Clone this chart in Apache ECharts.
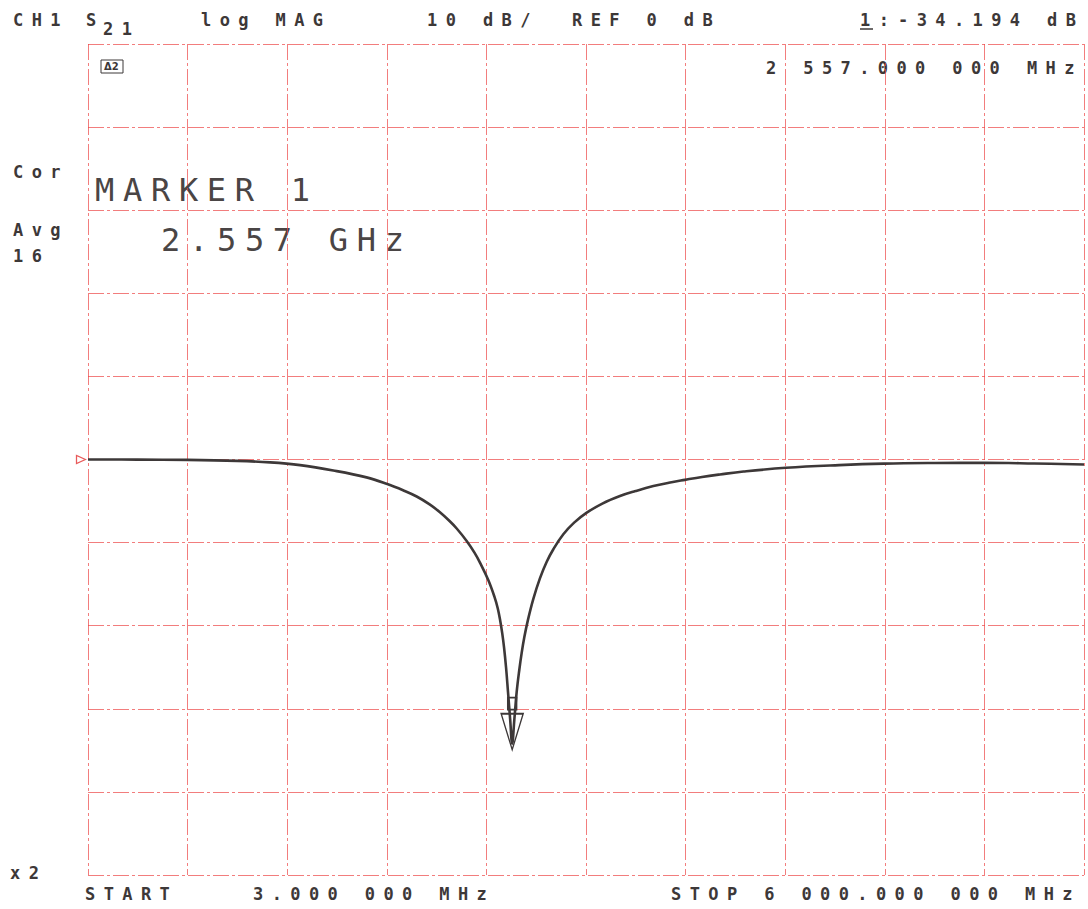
<!DOCTYPE html>
<html><head><meta charset="utf-8">
<script src="https://cdn.jsdelivr.net/npm/echarts@6/dist/echarts.min.js"></script>
<style>html,body{margin:0;padding:0;background:#fff}#chart{width:1088px;height:909px}</style>
</head><body><div id="chart"></div>
<script>
// ---- data ----
const freqMHz = [3, 300, 600, 900, 1100, 1280, 1480, 1680, 1805, 1900, 1982, 2060, 2122, 2180, 2223, 2283, 2330, 2363, 2413, 2450, 2470, 2485, 2497, 2508, 2520, 2532, 2545, 2557, 2570, 2584, 2600, 2614, 2630, 2652, 2684, 2724, 2765, 2805, 2865, 2930, 3006, 3100, 3206, 3300, 3407, 3500, 3597, 3700, 3808, 3950, 4206, 4525, 4796, 5100, 5404, 5700, 6000];
const s21dB   = [0.0, -0.01, -0.05, -0.17, -0.35, -0.68, -1.32, -2.15, -2.95, -3.7, -4.45, -5.4, -6.35, -7.4, -8.3, -9.8, -11.2, -12.4, -14.5, -16.5, -17.9, -19.4, -20.9, -22.6, -25.0, -28.0, -31.3, -34.194, -31.3, -28.0, -25.3, -23.3, -21.4, -19.3, -16.8, -14.3, -12.3, -10.8, -9.0, -7.6, -6.4, -5.3, -4.4, -3.8, -3.2, -2.8, -2.45, -2.1, -1.8, -1.45, -1.0, -0.68, -0.5, -0.42, -0.4, -0.48, -0.6];
const startMHz = 3;
const stopMHz = 6000;
const refLevelDB = 0;
const dbPerDiv = 10;
const markerFreqMHz = 2557;
const markerDB = -34.194;
const headerTexts = ['CH1', 'S', '21', 'log MAG', '10 dB/', 'REF 0 dB', '1:', '-34.194 dB'];
const markerFreqText = '2 557.000 000 MHz';
const sideTexts = ['Cor', 'Avg', '16', 'x2'];
const markerTexts = ['MARKER 1', '2.557 GHz'];
const footerTexts = ['START', '3.000 000 MHz', 'STOP 6 000.000 000 MHz'];
const iconText = 'Δ2';

const traceData = freqMHz.map((f, i) => [f, s21dB[i]]);

const ink = '#3d3838';
const gridRed = 'rgba(236,70,70,0.7)';
const smallFont = 'bold 17px "DejaVu Sans Mono"';
const bigFont = '32px "DejaVu Sans Mono"';

function txt(text, x, y, font, fill) {
  return {
    type: 'text', x: x, y: y, silent: true,
    style: { text: text, font: font || smallFont, fill: fill || ink, align: 'left', verticalAlign: 'middle' }
  };
}

const chart = echarts.init(document.getElementById('chart'), null, { renderer: 'svg', width: 1088, height: 909 });

function applySpacing() {
  document.querySelectorAll('#chart svg text').forEach(t => {
    const fs = parseFloat(getComputedStyle(t).fontSize) || 12;
    t.setAttribute('letter-spacing', fs < 12 ? '0px' : (fs > 24 ? '8.7px' : '8.4px'));
  });
}
chart.on('finished', applySpacing);

const option = {
  animation: false,
  backgroundColor: '#ffffff',
  grid: { left: 88, right: 4, top: 44, bottom: 34, containLabel: false },
  xAxis: [
    { type: 'value', min: startMHz, max: stopMHz, show: false },
    { type: 'value', min: 0, max: 10, interval: 1, position: 'bottom',
      axisLine: { show: false }, axisTick: { show: false }, axisLabel: { show: false },
      splitLine: { show: true, lineStyle: { color: gridRed, width: 1, type: [16, 3, 3, 3] } } }
  ],
  yAxis: {
    type: 'value', min: refLevelDB - 5 * dbPerDiv, max: refLevelDB + 5 * dbPerDiv, interval: dbPerDiv,
    axisLine: { show: false }, axisTick: { show: false }, axisLabel: { show: false },
    splitLine: { show: true, lineStyle: { color: gridRed, width: 1, type: [16, 3, 3, 3] } }
  },
  series: [{
    type: 'line', xAxisIndex: 0, yAxisIndex: 0,
    data: traceData, symbol: 'none', smooth: 0.4, clip: false,
    lineStyle: { color: ink, width: 2.6 },
    z: 5,
    markPoint: {
      silent: true,
      label: { show: false },
      data: [
        { coord: [markerFreqMHz, markerDB], symbol: 'triangle', symbolRotate: 180, symbolSize: [22, 36], symbolOffset: [0, -12],
          itemStyle: { color: '#ffffff', borderColor: ink, borderWidth: 1.6 } },
        { coord: [markerFreqMHz, markerDB], symbol: 'rect', symbolSize: [9, 12], symbolOffset: [0, -40],
          itemStyle: { color: '#ffffff', borderColor: ink, borderWidth: 1.6 } },
        { coord: [startMHz, refLevelDB], symbol: 'triangle', symbolRotate: -90, symbolSize: [8, 9], symbolOffset: [-7, 0],
          itemStyle: { color: '#ffffff', borderColor: '#e85a5a', borderWidth: 1.2 } }
      ]
    }
  }],
  graphic: [
    txt(headerTexts[0], 13, 20),
    txt(headerTexts[1], 86, 20),
    txt(headerTexts[2], 103, 29),
    txt(headerTexts[3], 201, 20),
    txt(headerTexts[4], 427, 20),
    txt(headerTexts[5], 572, 20),
    txt(headerTexts[6], 860, 20),
    { type: 'line', silent: true, shape: { x1: 860, y1: 29, x2: 873, y2: 29 }, style: { stroke: ink, lineWidth: 1.5 } },
    txt(headerTexts[7], 898, 20),
    txt(markerFreqText, 766, 68),
    { type: 'rect', silent: true, shape: { x: 101, y: 60, width: 22, height: 13 }, style: { fill: '#fff', stroke: ink, lineWidth: 1 } },
    txt(iconText, 104, 66.5, 'bold 10px "DejaVu Sans"'),
    txt(sideTexts[0], 13, 172),
    txt(sideTexts[1], 13, 230),
    txt(sideTexts[2], 13, 256),
    txt(sideTexts[3], 10, 873),
    txt(markerTexts[0], 95, 190, bigFont, '#4a4545'),
    txt(markerTexts[1], 161, 240, bigFont, '#4a4545'),
    txt(footerTexts[0], 85, 894),
    txt(footerTexts[1], 253, 894),
    txt(footerTexts[2], 671, 894)
  ]
};
chart.setOption(option);
applySpacing();
setTimeout(applySpacing, 30);
setTimeout(applySpacing, 200);
</script>
</body></html>
